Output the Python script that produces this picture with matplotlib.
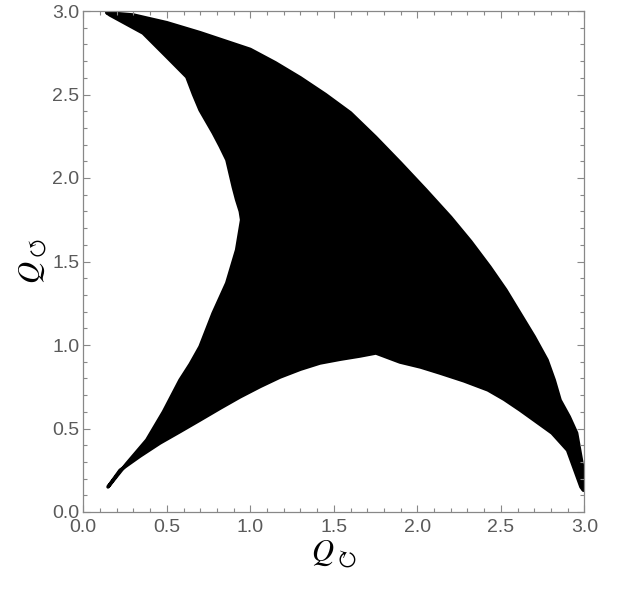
import numpy as np
import matplotlib
matplotlib.use("Agg")
import matplotlib.pyplot as plt
import matplotlib.ticker as mtick

plt.rcParams['mathtext.fontset'] = 'stix'
plt.rcParams['font.family'] = ['Liberation Sans', 'DejaVu Sans']

# outer (upper-right) edge of the region, left to right
outer_x = [0.14, 0.30, 0.50, 0.70, 1.00, 1.15, 1.30, 1.45, 1.60, 1.75, 1.90, 2.05, 2.20, 2.32, 2.435, 2.53, 2.615, 2.70, 2.777, 2.82, 2.855, 2.91, 2.954, 2.99, 2.995]
outer_y = [2.99, 2.976, 2.93, 2.87, 2.77, 2.69, 2.60, 2.50, 2.39, 2.245, 2.09, 1.93, 1.765, 1.62, 1.467, 1.33, 1.19, 1.05, 0.91, 0.79, 0.67, 0.57, 0.473, 0.27, 0.13]

# lower edge, right to left
lower_x = [2.98, 2.90, 2.807, 2.70, 2.615, 2.52, 2.423, 2.28, 2.136, 2.02, 1.896, 1.752, 1.657, 1.54, 1.417, 1.30, 1.178, 1.06, 0.938, 0.82, 0.699, 0.58, 0.459, 0.34, 0.22, 0.148]
lower_y = [0.15, 0.37, 0.473, 0.55, 0.611, 0.675, 0.731, 0.785, 0.832, 0.868, 0.898, 0.952, 0.934, 0.915, 0.892, 0.855, 0.808, 0.752, 0.689, 0.622, 0.551, 0.482, 0.413, 0.335, 0.25, 0.15]

# left edge, bottom to top
left_x = [0.26, 0.38, 0.48, 0.579, 0.64, 0.699, 0.777, 0.859, 0.918, 0.948, 0.94, 0.918, 0.898, 0.86, 0.82, 0.778, 0.699, 0.66, 0.62, 0.501, 0.358, 0.16]
left_y = [0.29, 0.431, 0.60, 0.79, 0.885, 0.99, 1.19, 1.371, 1.569, 1.749, 1.80, 1.87, 1.946, 2.108, 2.19, 2.27, 2.407, 2.50, 2.605, 2.725, 2.868, 2.976]

ticks = [0.0, 0.5, 1.0, 1.5, 2.0, 2.5, 3.0]
tick_labels = ['0.0', '0.5', '1.0', '1.5', '2.0', '2.5', '3.0']

fig = plt.figure(figsize=(6.26, 5.91), dpi=100)
ax = fig.add_axes([83.3 / 626, 79 / 591, 501 / 626, 501 / 591])

xs = outer_x + lower_x + left_x
ys = outer_y + lower_y + left_y
ax.fill(xs, ys, facecolor='black', edgecolor='black', linewidth=2.5, joinstyle='round')

ax.set_xlim(0, 3)
ax.set_ylim(0, 3)
ax.set_xticks(ticks)
ax.set_xticklabels(tick_labels)
ax.set_yticks(ticks)
ax.set_yticklabels(tick_labels)
ax.xaxis.set_minor_locator(mtick.MultipleLocator(0.1))
ax.yaxis.set_minor_locator(mtick.MultipleLocator(0.1))

ax.tick_params(which='both', direction='in', top=True, right=True, color='#888888', width=0.8)
ax.tick_params(which='major', length=5, labelsize=14, labelcolor='#5a5a5a')
ax.tick_params(which='minor', length=3)
ax.tick_params(axis='y', pad=3)
ax.tick_params(axis='x', pad=5)
for s in ax.spines.values():
    s.set_color('#888888')
    s.set_linewidth(0.9)

ax.set_xlabel(r'$Q_{\circlearrowright}$', fontsize=22, labelpad=2)
ax.set_ylabel(r'$Q_{\circlearrowleft}$', fontsize=22, labelpad=2)

plt.savefig('out.png', dpi=100)
